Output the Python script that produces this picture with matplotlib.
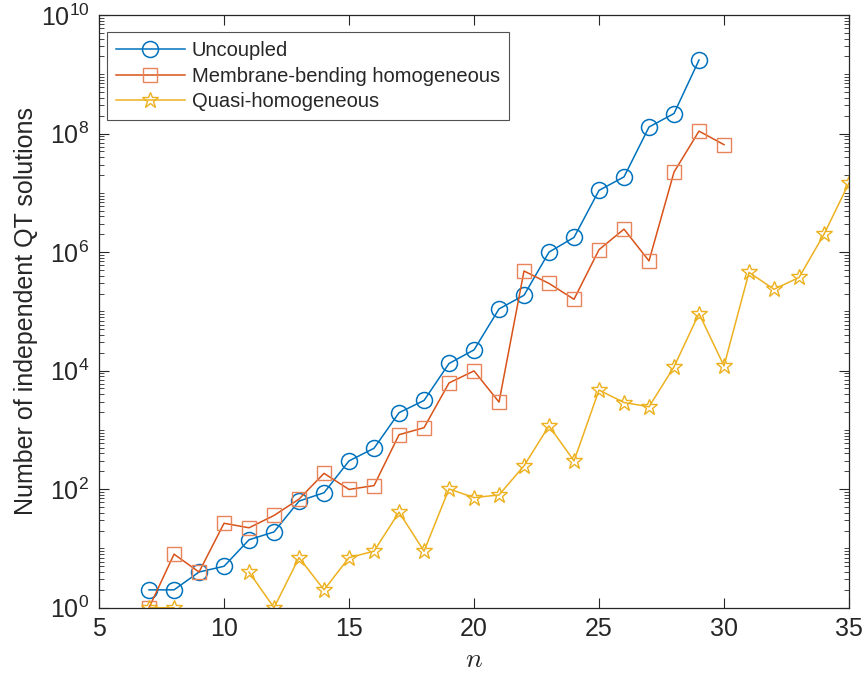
import numpy as np
import matplotlib.pyplot as plt
from matplotlib.ticker import LogLocator, NullFormatter, FixedLocator

plt.rcParams['font.family'] = ['Liberation Sans', 'DejaVu Sans']
plt.rcParams['mathtext.fontset'] = 'cm'

# Data
n_unc = np.arange(7, 30)
uncoupled = [2, 2, 4, 5, 14, 19, 63, 87, 300, 490, 1950, 3140, 13200, 22400,
             1.1e5, 1.87e5, 1.0e6, 1.77e6, 1.1e7, 1.86e7, 1.29e8, 2.18e8, 1.74e9]

n_mem = np.arange(7, 31)
membrane = [1, 8, 4, 26.6, 22.3, 36, 68, 185, 99, 115, 830, 1090, 6200, 9900,
            2950, 4.8e5, 2.96e5, 1.6e5, 1.1e6, 2.44e6, 7.1e5, 2.24e7, 1.1e8, 6.5e7]

n_quasi = np.arange(7, 36)
quasi = [1, 1, np.nan, np.nan, 4, 1, 7, 2, 7, 9, 41, 9, 101, 72, 80, 248, 1170,
         300, 4700, 2900, 2460, 11600, 9.2e4, 1.2e4, 4.55e5, 2.36e5, 3.73e5,
         2.0e6, 1.47e7]

blue = '#0072BD'
red = '#D95319'
yellow = '#EDB120'
axcol = '#262626'

fig = plt.figure(figsize=(8.65, 6.75), dpi=100)
ax = fig.add_axes([0.1145, 0.0997, 0.867, 0.878])

ax.plot(n_unc, uncoupled, '-o', color=blue, lw=1.1, ms=11.5, mfc='none',
        mew=1.1, label='Uncoupled')
ax.plot(n_mem, membrane, '-s', color=red, lw=1.1, ms=10.5, mfc='none',
        mew=1.0, markeredgecolor='#E8845A', label='Membrane-bending homogeneous')
ax.plot(n_quasi, quasi, '-*', color=yellow, lw=1.1, ms=12, mfc='none',
        mew=1.0, label='Quasi-homogeneous')

ax.set_yscale('log')
ax.set_xlim(5, 35)
ax.set_ylim(1, 1e10)
ax.set_xticks(np.arange(5, 36, 5))
ax.yaxis.set_major_locator(FixedLocator([1e0, 1e2, 1e4, 1e6, 1e8, 1e10]))
ax.yaxis.set_minor_locator(LogLocator(base=10, subs=np.arange(1, 10), numticks=50))
ax.yaxis.set_minor_formatter(NullFormatter())

ax.tick_params(which='both', direction='in', top=True, right=True,
               colors=axcol, labelsize=18, pad=7)
ax.tick_params(which='major', length=7, width=0.8)
ax.tick_params(which='minor', length=3.5, width=0.6)
for s in ax.spines.values():
    s.set_color(axcol)
    s.set_linewidth(0.9)

ax.set_xlabel('$n$', fontsize=20, color=axcol, labelpad=4)
ax.set_ylabel('Number of independent QT solutions', fontsize=18, color=axcol,
              labelpad=2)

leg = ax.legend(loc='upper left', bbox_to_anchor=(0.0107, 0.9713),
                fontsize=14.5, frameon=True, fancybox=False, borderaxespad=0,
                handlelength=3.4, labelspacing=0.33, borderpad=0.45,
                handletextpad=0.35)
leg.get_frame().set_edgecolor(axcol)
leg.get_frame().set_linewidth(0.8)
for t in leg.get_texts():
    t.set_color(axcol)

fig.savefig('out.png', dpi=100)
